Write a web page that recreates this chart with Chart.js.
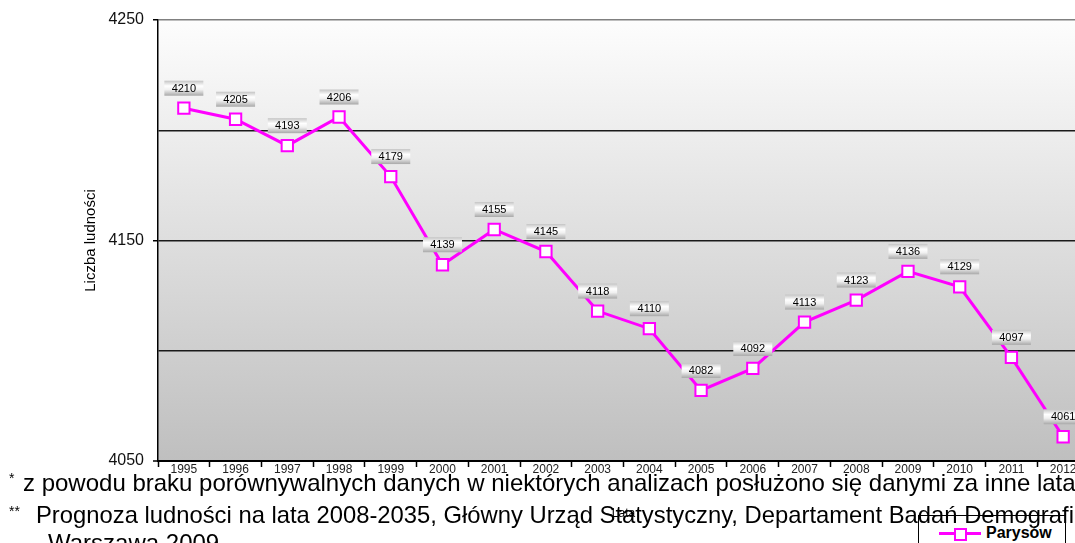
<!DOCTYPE html>
<html>
<head>
<meta charset="utf-8">
<script src="https://cdn.jsdelivr.net/npm/chart.js@4.4.1/dist/chart.umd.min.js"></script>
<style>
  html, body { margin: 0; padding: 0; background: #fff; overflow: hidden; width: 1075px; height: 543px; }
  #wrap { position: relative; width: 1100px; height: 543px; }
  #chart { position: absolute; left: 0; top: 0; }
  .note { position: absolute; font-family: "Liberation Sans", Arial, sans-serif; font-size: 24px; line-height: 24px; color: #000; white-space: nowrap; }
  .star { position: absolute; font-family: "Liberation Sans", Arial, sans-serif; font-size: 14px; color: #000; }
  #legend { position: absolute; left: 918px; top: 515px; width: 146px; height: 40px; border: 1px solid #000; background: #fff; }
  #legend .line { position: absolute; left: 20px; top: 16px; width: 42px; height: 3px; background: #ff00ff; }
  #legend .sq { position: absolute; left: 35px; top: 12px; width: 9px; height: 9px; border: 2px solid #ff00ff; background: #fff; }
  #legend .txt { position: absolute; left: 67px; top: 8px; font-family: "Liberation Sans", Arial, sans-serif; font-size: 16px; font-weight: bold; color: #000; }
</style>
</head>
<body>
<div id="wrap">
  <canvas id="chart" width="1100" height="543"></canvas>
  <div id="legend"><div class="line"></div><div class="sq"></div><div class="txt">Parysów</div></div>
  <div class="star" style="left:9px; top:470px;">*</div>
  <div class="note" style="left:23px; top:471px;">z powodu braku porównywalnych danych w niektórych analizach posłużono się danymi za inne lata</div>
  <div class="star" style="left:9px; top:503px;">**</div>
  <div class="note" style="left:36px; top:503px; font-size:23.8px;">Prognoza ludności na lata 2008-2035, Główny Urząd Statystyczny, Departament Badań Demograficznych,</div>
  <div class="note" style="left:48px; top:531px;">Warszawa 2009</div>
</div>
<script>
// Chart data
const years = ['1995', '1996', '1997', '1998', '1999', '2000', '2001', '2002', '2003',
               '2004', '2005', '2006', '2007', '2008', '2009', '2010', '2011', '2012'];
const parysow = [4210, 4205, 4193, 4206, 4179, 4139, 4155, 4145, 4118,
                 4110, 4082, 4092, 4113, 4123, 4136, 4129, 4097, 4061];
const yMin = 4050;
const yMax = 4250;

const FONT = '"Liberation Sans", Arial, sans-serif';

// gray gradient behind the plot
const plotBackground = {
    id: 'plotBackground',
    beforeDraw(chart) {
        const { ctx, chartArea: a } = chart;
        const g = ctx.createLinearGradient(0, a.top, 0, a.bottom);
        g.addColorStop(0, '#fdfdfd');
        g.addColorStop(1, '#bfbfbf');
        ctx.save();
        ctx.fillStyle = g;
        ctx.fillRect(a.left, a.top, a.right - a.left, a.bottom - a.top);
        ctx.restore();
    }
};

// boxed value labels above points
const valueLabels = {
    id: 'valueLabels',
    afterDatasetsDraw(chart) {
        const { ctx } = chart;
        const meta = chart.getDatasetMeta(0);
        const values = chart.data.datasets[0].data;
        ctx.save();
        ctx.font = '11px ' + FONT;
        ctx.textAlign = 'center';
        ctx.textBaseline = 'middle';
        meta.data.forEach((pt, i) => {
            const w = 39, h = 15;
            const cx = pt.x, cy = pt.y - 20;
            const g = ctx.createLinearGradient(0, cy - h / 2, 0, cy + h / 2);
            g.addColorStop(0, '#c4c4c4');
            g.addColorStop(0.35, '#ffffff');
            g.addColorStop(0.6, '#f0f0f0');
            g.addColorStop(1, '#a8a8a8');
            ctx.fillStyle = g;
            ctx.fillRect(cx - w / 2, cy - h / 2, w, h);
            ctx.fillStyle = '#000';
            ctx.fillText(String(values[i]), cx, cy + 0.5);
        });
        ctx.restore();
    }
};

const isMajor = v => (v - yMin) % 100 === 0;

new Chart(document.getElementById('chart').getContext('2d'), {
    type: 'line',
    data: {
        labels: years,
        datasets: [{
            label: 'Parysów',
            data: parysow,
            borderColor: '#ff00ff',
            borderWidth: 3,
            tension: 0,
            fill: false,
            pointStyle: 'rect',
            pointRadius: 8,
            pointHoverRadius: 8,
            pointBorderWidth: 2,
            pointBorderColor: '#ff00ff',
            pointBackgroundColor: '#ffffff'
        }]
    },
    options: {
        responsive: false,
        animation: false,
        layout: { padding: { left: 0, right: 11, top: 20, bottom: 0 } },
        plugins: {
            legend: { display: false },
            tooltip: { enabled: false }
        },
        scales: {
            x: {
                offset: true,
                afterFit: s => { s.height = 82; },
                grid: {
                    offset: true,
                    drawOnChartArea: false,
                    tickLength: 6,
                    tickColor: '#000',
                    tickWidth: 1.5
                },
                border: { color: '#000', width: 2 },
                ticks: {
                    font: { family: FONT, size: 12 },
                    color: '#222',
                    padding: -5,
                    maxRotation: 0,
                    autoSkip: false
                },
                title: {
                    display: true,
                    text: 'Lata',
                    font: { family: FONT, size: 12 },
                    color: '#000',
                    padding: { top: 0, bottom: 22 }
                }
            },
            y: {
                min: yMin,
                max: yMax,
                afterFit: s => { s.width = 158; },
                grid: {
                    color: ctx => ctx.tick && ctx.tick.value === yMax ? '#808080' : '#1a1a1a',
                    lineWidth: ctx => ctx.tick && ctx.tick.value === yMin ? 0 : 1.5,
                    tickLength: 5,
                    tickColor: ctx => ctx.tick && isMajor(ctx.tick.value) ? '#000' : 'rgba(0,0,0,0)',
                    tickWidth: 1.5
                },
                border: { color: '#000', width: 1.5 },
                ticks: {
                    stepSize: 50,
                    padding: 9,
                    font: { family: FONT, size: 16 },
                    color: '#111',
                    callback: v => isMajor(v) ? String(v) : ''
                },
                title: {
                    display: true,
                    text: 'Liczba ludności',
                    font: { family: FONT, size: 15 },
                    color: '#000',
                    padding: { top: 82, bottom: 0 }
                }
            }
        }
    },
    plugins: [plotBackground, valueLabels]
});
</script>
</body>
</html>
